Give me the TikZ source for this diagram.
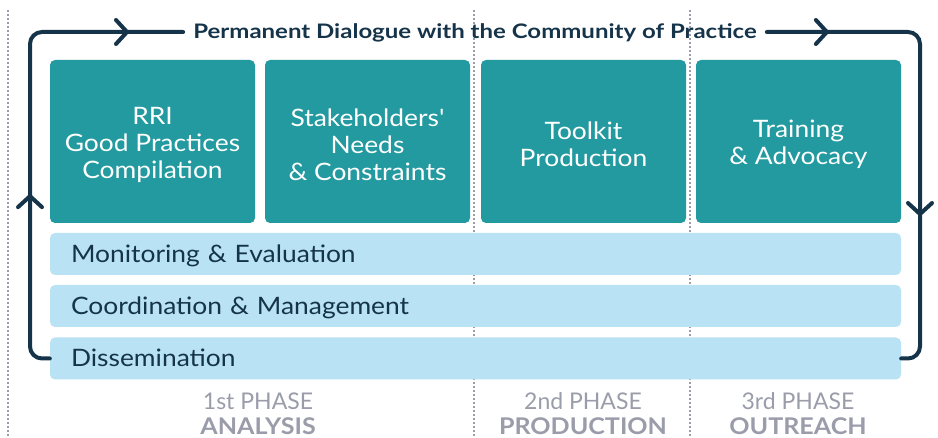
\documentclass[tikz,border=0pt]{standalone}
\usepackage{fontspec}
\setmainfont{Lato}
\newfontfamily\widefont{Lato}[FakeStretch=1.1]
\newfontfamily\titlefont{Lato}[FakeStretch=1.2]
\newfontfamily\phasefont{Lato}[FakeStretch=1.09]
\usetikzlibrary{positioning, calc, arrows.meta, decorations.markings}
\definecolor{taskteal}{HTML}{229AA0}
\definecolor{skyblue}{HTML}{B9E2F5}
\definecolor{navy}{HTML}{15344A}
\definecolor{phasegray}{HTML}{9A9CAA}

\begin{document}
\begin{tikzpicture}[x=1pt, y=-1pt]

\tikzset{
tasktext/.style = {text = white, inner sep = 0pt, yshift = -3pt,
	align = center, font = \widefont\fontsize{24}{27}\selectfont},
task/.style = {rectangle, rounded corners = 5pt, fill = taskteal,
	minimum width = 205pt, minimum height = 163pt, inner sep = 0pt,
	label = {[tasktext]center:#1}},
band/.style = {rectangle, rounded corners = 5pt, fill = skyblue, text = navy,
	minimum width = 851pt, minimum height = 42pt, inner sep = 0pt,
	text height = 17pt, text depth = 0pt,
	text width = 809pt, align = left, font = \widefont\fontsize{24}{27}\selectfont},
phase/.style = {align = center, text = phasegray, inner sep = 0pt,
	font = \fontsize{23}{25}\selectfont},
divider/.style = {draw = phasegray, line width = 1.6pt, dash pattern = on 1.6pt off 2.4pt},
cycle/.style = {draw = navy, line width = 4pt, rounded corners = 12pt, line cap = round},
chevron/.tip = {Straight Barb[length = 11pt, width = 24pt, line width = 4pt, round]},
	}

\useasboundingbox (0,0) rectangle (938,438);

%% Phase dividers
\draw [divider] (8,10) -- (8,438);
\draw [divider] (474,10) -- (474,438);
\draw [divider] (690,10) -- (690,438);

%% Tasks
\node at (152.5,141.5) [task = {RRI\\Good Practices\\Compilation}] (rri) {};
\node at (367.5,141.5) [task = {Stakeholders'\\Needs\\\& Constraints}] (needs) {};
\node at (583.5,141.5) [task = {Toolkit\\Production}] (toolkit) {};
\node at (798.5,141.5) [task = {Training\\\& Advocacy}] (training) {};

% Transversal bands
\node at (475.5,254) [band] (monitor) {Monitoring \& Evaluation};
\node at (475.5,306) [band] (coord) {Coordination \& Management};
\node at (475.5,358.5) [band] (dis) {Dissemination};

%% Dialogue loop
\node at (475,33) [text = navy, inner sep = 10pt, font = \titlefont\fontsize{20}{20}\selectfont\bfseries] (dialogue)
	{Permanent Dialogue with the Community of Practice};
\coordinate (lowleft) at (30,358.5);
\coordinate (upleft) at (30,32);
\coordinate (upright) at (920,32);
\coordinate (lowright) at (920,358.5);

\draw [cycle, postaction = {decorate, decoration = {markings,
	mark = at position 179pt with {\arrow[navy]{chevron}},
	mark = at position 435pt with {\arrow[navy]{chevron}}}}]
	(dis.west) -- (lowleft) -- (upleft) -- (upleft -| dialogue.west);
\draw [cycle, postaction = {decorate, decoration = {markings,
	mark = at position 62pt with {\arrow[navy]{chevron}},
	mark = at position 332pt with {\arrow[navy]{chevron}}}}]
	(upright -| dialogue.east) -- (upright) -- (lowright) -- (dis.east);

%% Phases
\node at (258,414) [phase] (analysis) {1st PHASE\\{\phasefont\bfseries ANALYSIS}};
\node at (583,414) [phase] (production) {2nd PHASE\\{\phasefont\bfseries PRODUCTION}};
\node at (798,414) [phase] (outreach) {3rd PHASE\\{\phasefont\bfseries OUTREACH}};

\end{tikzpicture}
\end{document}
